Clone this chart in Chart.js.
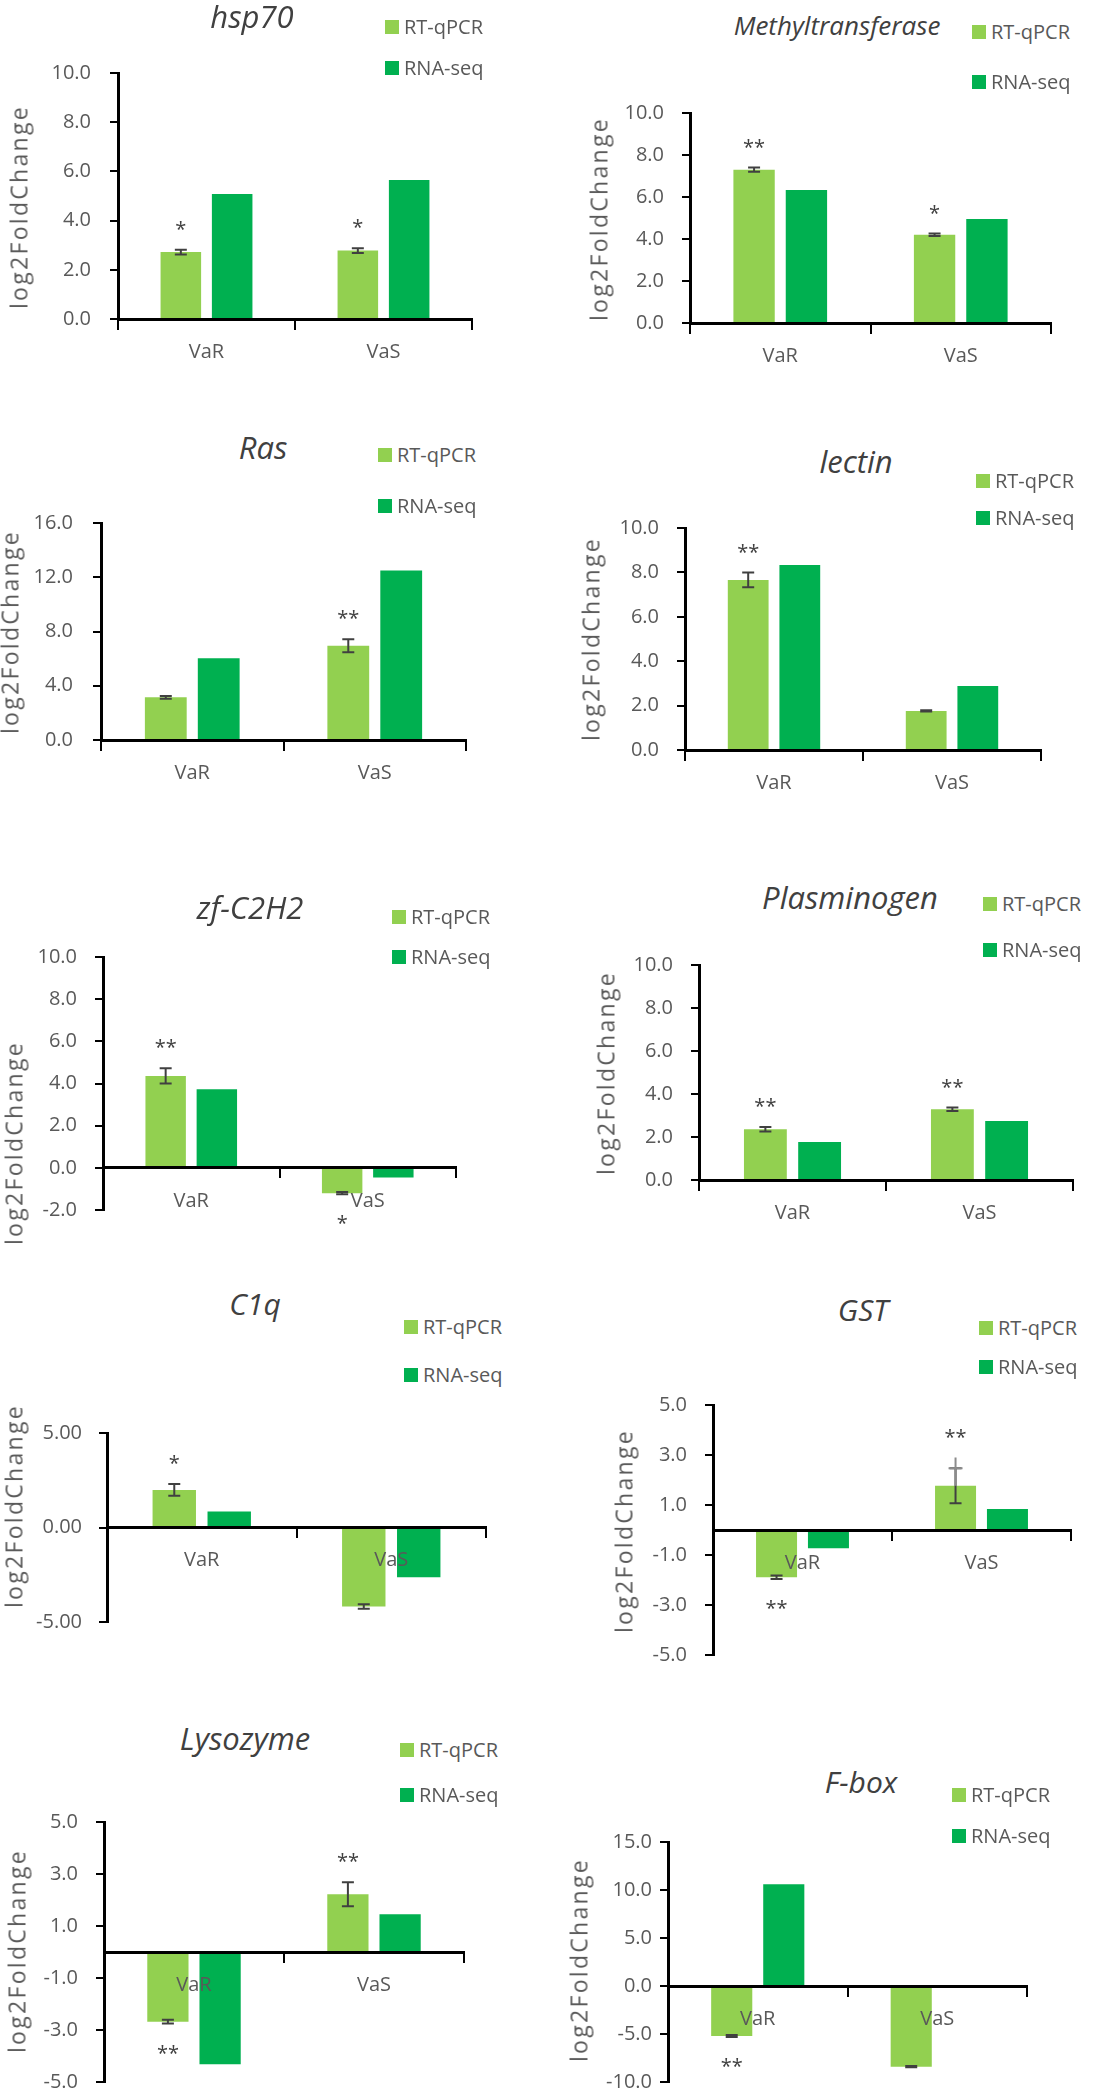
<!DOCTYPE html>
<html>
<head>
<meta charset="utf-8">
<script src="https://cdn.jsdelivr.net/npm/chart.js@4/dist/chart.umd.min.js"></script>
<style>
html, body { margin: 0; padding: 0; background: #fff; overflow: hidden; }
body { width: 1120px; height: 2090px; position: relative; font-family: 'Open Sans', sans-serif; }
canvas { position: absolute; }
.title { position: absolute; font-style: italic; color: #404040; white-space: nowrap; line-height: 1; transform: translate(-50%, -50%); }
.leg { position: absolute; font-size: 20px; line-height: 1; color: #595959; white-space: nowrap; transform: translateY(-50%); display: flex; align-items: center; }
.leg i { display: inline-block; width: 14px; height: 14px; margin-right: 5px; }
.ylab { position: absolute; font-size: 23px; letter-spacing: 2.3px; line-height: 1; color: #595959; white-space: nowrap; transform: translate(-50%, -50%) rotate(-90deg); }
</style>
</head>
<body>
<script>
// data
const categories = ['VaR', 'VaS'];
const seriesNames = ['RT-qPCR', 'RNA-seq'];
const seriesColors = ['#92D050', '#00B050'];
const genes = ['hsp70', 'Methyltransferase', 'Ras', 'lectin', 'zf-C2H2',
               'Plasminogen', 'C1q', 'GST', 'Lysozyme', 'F-box'];
const rtqpcr = [
    [2.72, 2.78], [7.30, 4.20], [3.15, 6.95], [7.66, 1.76], [4.36, -1.20],
    [2.36, 3.29], [1.99, -4.18], [-1.89, 1.77], [-2.68, 2.22], [-5.20, -8.40]
];
const rnaseq = [
    [5.08, 5.65], [6.33, 4.95], [6.02, 12.50], [8.33, 2.88], [3.73, -0.46],
    [1.77, 2.74], [0.85, -2.63], [-0.73, 0.84], [-4.32, 1.45], [10.60, 0]
];
const rtqpcrErr = [
    [0.10, 0.10], [0.10, 0.06], [0.10, 0.48], [0.33, 0.03], [0.36, 0.05],
    [0.10, 0.08], [0.31, 0.12], [0.07, 0.70], [0.07, 0.46], [0.10, 0.06]
];
// second (grey) whisker only seen on GST / VaS
const greyWhiskerTop = [null, null, null, null, null, null, null, [null, 2.90], null, null];
const greyWhiskerCap = [null, null, null, null, null, null, null, [null, 2.47], null, null];
const significance = [
    ['*', '*'], ['**', '*'], ['', '**'], ['**', ''], ['**', '*'],
    ['**', '**'], ['*', ''], ['**', '**'], ['**', '**'], ['**', '']
];
const yTicks = [
    [0, 2, 4, 6, 8, 10], [0, 2, 4, 6, 8, 10], [0, 4, 8, 12, 16], [0, 2, 4, 6, 8, 10],
    [-2, 0, 2, 4, 6, 8, 10], [0, 2, 4, 6, 8, 10], [-5, 0, 5], [-5, -3, -1, 1, 3, 5],
    [-5, -3, -1, 1, 3, 5], [-10, -5, 0, 5, 10, 15]
];
const yDecimals = [1, 1, 1, 1, 1, 1, 2, 1, 1, 1];

// where each panel sits on the page (pixels)
// ax: y axis x, top/bot: pixel of max/min tick, xe: end of x axis
const panels = [
    {ax: 118, top: 73,   bot: 319,  xe: 472,  tx: 252, ty: 16,   ts: 31, lx: 385, ly: [27, 68],     yx: 19,  yy: 207,  tp: 19},
    {ax: 690, top: 113,  bot: 323,  xe: 1051, tx: 837, ty: 25,   ts: 26, lx: 972, ly: [32, 82],     yx: 599, yy: 219,  tp: 18},
    {ax: 101, top: 523,  bot: 740,  xe: 466,  tx: 263, ty: 447,  ts: 31, lx: 378, ly: [455, 506],   yx: 10,  yy: 632,  tp: 20},
    {ax: 685, top: 528,  bot: 750,  xe: 1041, tx: 856, ty: 461,  ts: 31, lx: 976, ly: [481, 518],   yx: 591, yy: 639,  tp: 18},
    {ax: 103, top: 957,  bot: 1210, xe: 456,  tx: 250, ty: 907,  ts: 31, lx: 392, ly: [917, 957],   yx: 14,  yy: 1143, tp: 18},
    {ax: 699, top: 965,  bot: 1180, xe: 1073, tx: 850, ty: 897,  ts: 31, lx: 983, ly: [904, 950],   yx: 606, yy: 1073, tp: 18},
    {ax: 107, top: 1433, bot: 1622, xe: 486,  tx: 255, ty: 1304, ts: 30, lx: 404, ly: [1327, 1375], yx: 14,  yy: 1506, tp: 17},
    {ax: 713, top: 1405, bot: 1655, xe: 1071, tx: 863, ty: 1310, ts: 30, lx: 979, ly: [1328, 1367], yx: 624, yy: 1531, tp: 18},
    {ax: 104, top: 1822, bot: 2082, xe: 464,  tx: 245, ty: 1738, ts: 31, lx: 400, ly: [1750, 1795], yx: 17,  yy: 1951, tp: 18},
    {ax: 668, top: 1842, bot: 2082, xe: 1027, tx: 861, ty: 1782, ts: 30, lx: 952, ly: [1795, 1836], yx: 579, yy: 1960, tp: 8}
];

Chart.defaults.font.family = "'Open Sans', sans-serif";

// error bars and significance stars on the RT-qPCR bars
const errorBars = {
    id: 'errorBars',
    afterDatasetsDraw(chart, args, opts) {
        const g = opts.gene;
        const ctx = chart.ctx;
        const y = chart.scales.y;
        chart.getDatasetMeta(0).data.forEach(function(bar, j) {
            const v = rtqpcr[g][j], e = rtqpcrErr[g][j];
            const x = bar.x;
            const yHi = y.getPixelForValue(v + e), yLo = y.getPixelForValue(v - e);
            ctx.save();
            ctx.strokeStyle = '#404040';
            ctx.lineWidth = 2;
            ctx.beginPath();
            ctx.moveTo(x, yHi); ctx.lineTo(x, yLo);
            ctx.moveTo(x - 6, yHi); ctx.lineTo(x + 6, yHi);
            ctx.moveTo(x - 6, yLo); ctx.lineTo(x + 6, yLo);
            ctx.stroke();
            let top = v + e;
            if (greyWhiskerTop[g] && greyWhiskerTop[g][j] !== null) {
                top = greyWhiskerTop[g][j];
                const yT = y.getPixelForValue(top), yC = y.getPixelForValue(greyWhiskerCap[g][j]);
                ctx.strokeStyle = '#8c8c8c';
                ctx.beginPath();
                ctx.moveTo(x, y.getPixelForValue(v)); ctx.lineTo(x, yT);
                ctx.moveTo(x - 7, yC); ctx.lineTo(x + 7, yC);
                ctx.stroke();
            }
            const s = significance[g][j];
            if (s) {
                ctx.fillStyle = '#404040';
                ctx.font = "20px 'Open Sans', sans-serif";
                ctx.textAlign = 'center';
                ctx.textBaseline = 'alphabetic';
                let cy;
                if (v >= 0) cy = y.getPixelForValue(top) - 25;
                else cy = y.getPixelForValue(v - e) + 25;
                ctx.fillText(s, x, cy + 11);
            }
            ctx.restore();
        });
    }
};

function addText(cls, txt, css) {
    const d = document.createElement('div');
    d.className = cls;
    d.textContent = txt;
    Object.assign(d.style, css);
    document.body.appendChild(d);
    return d;
}

panels.forEach(function(p, g) {
    const padTop = 40, padBottom = 60, axisW = 90, padRight = 12;
    const left = p.ax - axisW;
    const width = p.xe + padRight - left;
    const height = p.bot - p.top + padTop + padBottom;

    const canvas = document.createElement('canvas');
    canvas.width = width;
    canvas.height = height;
    canvas.style.left = left + 'px';
    canvas.style.top = (p.top - padTop) + 'px';
    canvas.style.width = width + 'px';
    canvas.style.height = height + 'px';
    document.body.appendChild(canvas);

    const ticks = yTicks[g];
    new Chart(canvas, {
        type: 'bar',
        data: {
            labels: categories,
            datasets: [{
                label: seriesNames[0],
                data: rtqpcr[g],
                backgroundColor: seriesColors[0]
            }, {
                label: seriesNames[1],
                data: rnaseq[g],
                backgroundColor: seriesColors[1]
            }]
        },
        options: {
            responsive: false,
            animation: false,
            devicePixelRatio: 1,
            categoryPercentage: 0.58,
            barPercentage: 0.79,
            layout: { padding: { left: 0, top: padTop, right: padRight, bottom: padBottom } },
            plugins: {
                legend: { display: false },
                tooltip: { enabled: false },
                errorBars: { gene: g }
            },
            scales: {
                x: {
                    type: 'category',
                    position: { y: 0 },
                    offset: true,
                    grid: { display: true, offset: true, drawOnChartArea: false, drawTicks: true,
                            tickLength: 9, color: '#000', lineWidth: 2, z: 1 },
                    border: { display: true, color: '#000', width: 3, z: 1 },
                    ticks: { color: '#595959', font: { size: 20 }, padding: 12, maxRotation: 0,
                             autoSkip: false, z: 1 }
                },
                y: {
                    min: ticks[0],
                    max: ticks[ticks.length - 1],
                    afterBuildTicks: function(scale) {
                        scale.ticks = ticks.map(function(v) { return { value: v }; });
                    },
                    afterFit: function(scale) { scale.width = axisW; },
                    grid: { display: true, drawOnChartArea: false, drawTicks: true, tickLength: 8,
                            color: '#000', lineWidth: 2 },
                    border: { display: true, color: '#000', width: 3, z: 1 },
                    ticks: {
                        color: '#595959',
                        font: { size: 20 },
                        padding: p.tp,
                        callback: function(v) { return Number(v).toFixed(yDecimals[g]); }
                    }
                }
            }
        },
        plugins: [errorBars]
    });

    addText('title', genes[g], { left: p.tx + 'px', top: p.ty + 'px', fontSize: p.ts + 'px' });
    addText('ylab', 'log2FoldChange', { left: p.yx + 'px', top: p.yy + 'px' });
    seriesNames.forEach(function(name, k) {
        const d = addText('leg', '', { left: p.lx + 'px', top: p.ly[k] + 'px' });
        const sw = document.createElement('i');
        sw.style.background = seriesColors[k];
        d.appendChild(sw);
        d.appendChild(document.createTextNode(name));
    });
});
</script>
</body>
</html>
